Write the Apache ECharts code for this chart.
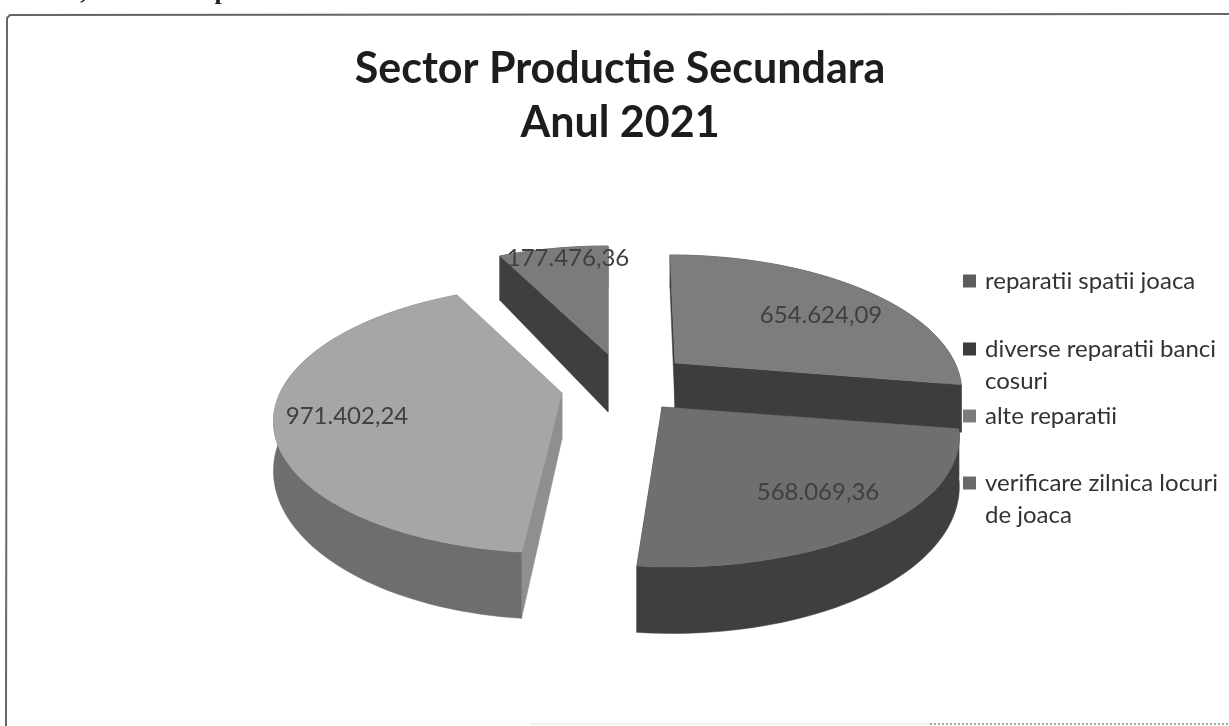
<!DOCTYPE html>
<html><head><meta charset="utf-8">
<style>html,body{margin:0;padding:0;background:#fff}#c{width:1229px;height:726px}</style>
<script src="https://cdn.jsdelivr.net/npm/echarts@6/dist/echarts.min.js"></script>
</head><body><div id="c"></div>
<script>
const categories = ['reparatii spatii joaca', 'diverse reparatii banci\ncosuri', 'alte reparatii', 'verificare zilnica locuri\nde joaca'];
const values = [654624.09, 568069.36, 971402.24, 177476.36];
const titleLines = ['Sector Productie Secundara', 'Anul 2021'];
const caption = 'Grafic, situatia 10 pct.';

const topColors = ['#7d7d7d', '#6f6f6f', '#a6a6a6', '#7b7b7b'];
const wallColors = ['#3d3d3d', '#3f3f3f', '#6e6e6e', '#3f3f3f'];
const cutColors = ['#3d3d3d', '#3f3f3f', '#8f8f8f', '#3f3f3f'];
const legendColors = ['#5c5c5c', '#3c3c3c', '#7c7c7c', '#6a6a6a'];
// exploded-slice layout: apex on screen, horizontal radius, wall height, skew, label offset
const layout = [
  {ox: 675, oy: 363, rx: 280, d: 45, sx: 0.046, lx: 146, ly: -48},
  {ox: 662, oy: 407, rx: 290, d: 46, sx: 0.0625, lx: 156, ly: 85},
  {ox: 562, oy: 393, rx: 282, d: 46, sx: -0.04, lx: -215, ly: 23},
  {ox: 608, oy: 354, rx: 280, d: 58, sx: 0, lx: -40, ly: -96}
];
const RY = 129, K = 0.194;
const drawOrder = [3, 0, 2, 1];
const legendCenters = [281, 349, 416, 483];

const total = values.reduce((a, b) => a + b, 0);
const fmt = v => {
  const [i, f] = v.toFixed(2).split('.');
  return i.replace(/\B(?=(\d{3})+$)/g, '.') + ',' + f;
};
function project(s, theta, r, drop) {
  const sn = Math.sin(theta), cs = Math.cos(theta);
  const w = 1 / (1 + K * sn * r);
  const dz = drop ? s.d * Math.pow(w, 1.7) : 0;
  const dy = -RY * sn * r * w;
  return [s.ox + s.rx * cs * r * w + s.sx * dy, s.oy + dy + dz];
}
function renderSlice(idx) {
  return function (params, api) {
    const value = api.value(0);
    let before = 0;
    for (let i = 0; i < idx; i++) before += values[i];
    const a0 = Math.PI / 2 - before / total * 2 * Math.PI;
    const a1 = a0 - value / total * 2 * Math.PI;
    const s = layout[idx];
    const steps = Math.max(4, Math.ceil((a0 - a1) / 0.03));
    const arcTop = [], arcBot = [];
    for (let i = 0; i <= steps; i++) {
      const t = a0 + (a1 - a0) * i / steps;
      arcTop.push(project(s, t, 1, false));
      arcBot.push(project(s, t, 1, true));
    }
    const apexT = project(s, 0, 0, false), apexB = project(s, 0, 0, true);
    const poly = (points, fill) => ({type: 'polygon', shape: {points}, style: {fill, stroke: fill, lineWidth: 0.5}, silent: true});
    return {
      type: 'group',
      children: [
        poly([apexT, arcTop[0], arcBot[0], apexB], cutColors[idx]),
        poly([apexT, arcTop[steps], arcBot[steps], apexB], cutColors[idx]),
        poly(arcTop.concat(arcBot.slice().reverse()), wallColors[idx]),
        poly([apexT].concat(arcTop), topColors[idx]),
        {type: 'text', silent: true, z2: 10, style: {
          text: fmt(value), x: s.ox + s.lx, y: s.oy + s.ly, align: 'center', verticalAlign: 'middle',
          fill: '#3f3f3f', font: '24px Lato, "Open Sans", sans-serif'
        }}
      ]
    };
  };
}
const series = drawOrder.map(i => ({
  type: 'custom',
  name: categories[i],
  coordinateSystem: 'none',
  z: 2 + drawOrder.indexOf(i),
  itemStyle: {color: legendColors[i]},
  renderItem: renderSlice(i),
  data: [[values[i]]]
}));
const legends = categories.map((name, i) => {
  const two = name.indexOf('\n') >= 0;
  return {
    left: 963, top: legendCenters[i] - (two ? 48 : 16),
    orient: 'vertical', itemWidth: 13, itemHeight: 13, itemGap: 0, padding: 0,
    selectedMode: false, icon: 'rect',
    data: [{name, itemStyle: {color: legendColors[i]}}],
    formatter: n => (n.indexOf('\n') >= 0 ? '\n' : '') + n,
    textStyle: {fontFamily: 'Lato, "Open Sans", sans-serif', fontSize: 24, lineHeight: 32, color: '#333', padding: [0, 0, 0, 4]}
  };
});
const chart = echarts.init(document.getElementById('c'), null, {renderer: 'canvas'});
chart.setOption({
  animation: false,
  backgroundColor: '#ffffff',
  title: {
    text: titleLines.join('\n'), left: 615, top: 37, textAlign: 'center',
    textStyle: {fontFamily: 'Lato, "Open Sans", sans-serif', fontWeight: 'bold', fontSize: 43, lineHeight: 54, color: '#1d1d1d'}
  },
  legend: legends,
  graphic: [
    {type: 'polyline', silent: true, shape: {points: [[1229, 14], [10, 15], [7, 18], [6, 726]]}, style: {stroke: '#666', lineWidth: 2, fill: null}},
    {type: 'line', silent: true, shape: {x1: 530, y1: 724, x2: 930, y2: 724}, style: {stroke: '#e2e2e2', lineWidth: 1}},
    {type: 'line', silent: true, shape: {x1: 930, y1: 724, x2: 1229, y2: 724}, style: {stroke: '#888', lineWidth: 1.5, lineDash: [2, 2]}},
    {type: 'text', silent: true, style: {text: caption, x: 8, y: -21, fill: '#222', font: 'bold 26px "Liberation Serif", serif'}}
  ],
  series
});
</script></body></html>
